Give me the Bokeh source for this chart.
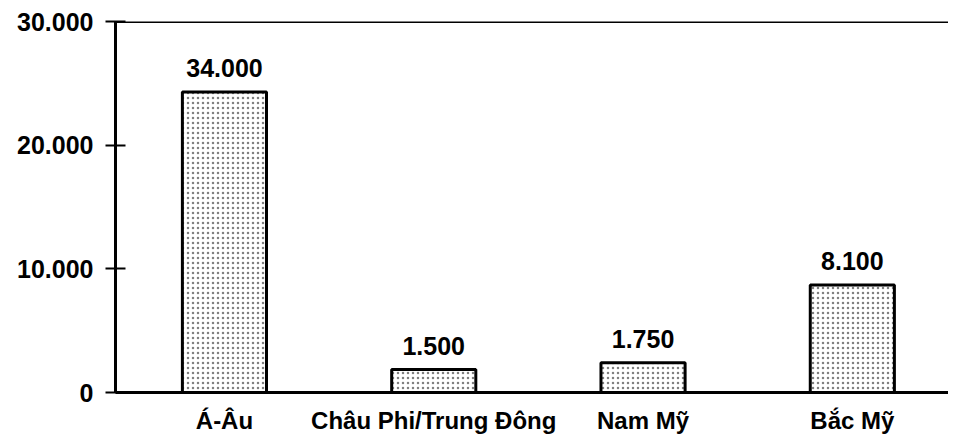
from bokeh.plotting import figure
from bokeh.models import Range1d, FixedTicker, Span, ColumnDataSource
from bokeh.core.properties import value
from bokeh.embed import file_html
from bokeh.resources import INLINE

# ---- data ----
regions = ["Á-Âu", "Châu Phi/Trung Đông", "Nam Mỹ", "Bắc Mỹ"]
reported_values = [34000, 1500, 1750, 8100]      # numbers printed above the bars
bar_heights = [24300, 1850, 2400, 8700]          # heights the bars are drawn to
y_ticks = [0, 10000, 20000, 30000]
y_tick_labels = ["0", "10.000", "20.000", "30.000"]


def fmt(v):
    return f"{v:,}".replace(",", ".")


xs = list(range(len(regions)))
src = ColumnDataSource(dict(x=xs, top=bar_heights,
                            label=[fmt(v) for v in reported_values]))

FONT = "Liberation Sans"

p = figure(width=948, height=436, output_backend="svg", toolbar_location=None,
           x_range=Range1d(-0.5206, 3.4595), y_range=Range1d(0, 30000),
           min_border_left=115, min_border_right=0, min_border_top=21,
           min_border_bottom=41, background_fill_color="white",
           border_fill_color="white")
p.outline_line_color = None
p.xgrid.visible = False
p.ygrid.visible = False

p.vbar(x="x", top="top", bottom=0, width=0.402, source=src,
       fill_color="white", line_color="black", line_width=3,
       hatch_pattern=".", hatch_color="black", hatch_scale=5,
       hatch_weight=1.2, hatch_alpha=0.5)

p.text(x="x", y="top", text="label", source=src, text_align="center",
       text_baseline="bottom", y_offset=-15,
       text_font=value(FONT), text_font_style="bold",
       text_font_size="25px", text_color="black")

# x axis
p.xaxis.ticker = FixedTicker(ticks=xs)
p.xaxis.major_label_overrides = {i: r for i, r in enumerate(regions)}
p.xaxis.axis_line_width = 3
p.xaxis.axis_line_color = "black"
p.xaxis.major_tick_line_color = None
p.xaxis.minor_tick_line_color = None
p.xaxis.major_tick_in = 0
p.xaxis.major_tick_out = 0
p.xaxis.major_label_standoff = 14
p.xaxis.major_label_text_font = FONT
p.xaxis.major_label_text_font_style = "bold"
p.xaxis.major_label_text_font_size = "24px"
p.xaxis.major_label_text_color = "black"

# y axis
p.yaxis.ticker = FixedTicker(ticks=y_ticks)
p.yaxis.major_label_overrides = {t: l for t, l in zip(y_ticks, y_tick_labels)}
p.yaxis.axis_line_width = 3
p.yaxis.axis_line_color = "black"
p.yaxis.major_tick_in = 10
p.yaxis.major_tick_out = 10
p.yaxis.major_tick_line_width = 2
p.yaxis.major_tick_line_color = "black"
p.yaxis.minor_tick_line_color = None
p.yaxis.major_label_standoff = 12
p.yaxis.major_label_text_font = FONT
p.yaxis.major_label_text_font_style = "bold"
p.yaxis.major_label_text_font_size = "25px"
p.yaxis.major_label_text_color = "black"

# top frame line
p.add_layout(Span(location=30000, dimension="width", line_color="black",
                  line_width=3))

open("out.html", "w").write(file_html(p, INLINE))
